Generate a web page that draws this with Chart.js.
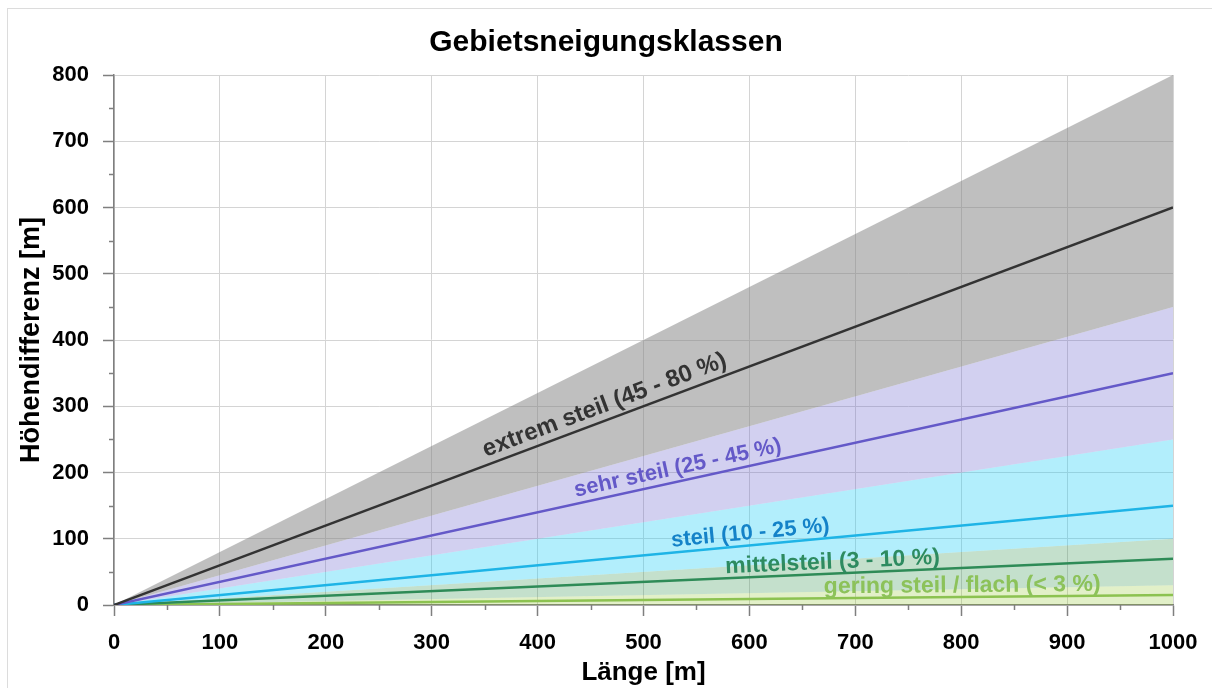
<!DOCTYPE html>
<html>
<head>
<meta charset="utf-8">
<script src="https://cdn.jsdelivr.net/npm/chart.js@4.4.0/dist/chart.umd.min.js"></script>
<style>
  body { margin: 0; background: #fff; }
  #wrap { position: relative; width: 1212px; height: 688px; }
  #frame { position: absolute; left: 7px; top: 8px; width: 1205px; height: 680px;
           border-left: 1px solid #dcdcdc; border-top: 1px solid #dcdcdc; box-sizing: border-box; }
  canvas { position: absolute; left: 0; top: 0; }
</style>
</head>
<body>
<div id="wrap">
  <div id="frame"></div>
  <canvas id="myChart" width="1212" height="688"></canvas>
</div>
<script>
// Länge [m] an den Endpunkten
var laenge = [0, 1000];
// Obergrenzen der Klassen (Höhendifferenz bei 0 m und 1000 m)
var obergrenze = [[0, 800], [0, 450], [0, 250], [0, 100], [0, 30]];
// Mittellinien der Klassen
var mittellinie = [[0, 600], [0, 350], [0, 150], [0, 70], [0, 15]];
var klassen = [
  "extrem steil (45 - 80 %)",
  "sehr steil (25 - 45 %)",
  "steil (10 - 25 %)",
  "mittelsteil (3 - 10 %)",
  "gering steil / flach (< 3 %)"
];
var xTicks = [0, 100, 200, 300, 400, 500, 600, 700, 800, 900, 1000];
var yTicks = [0, 100, 200, 300, 400, 500, 600, 700, 800];

// styles
var bandColors = [
  "rgba(128,128,128,0.5)",
  "rgba(105,98,205,0.3)",
  "rgba(35,206,246,0.35)",
  "rgba(58,152,85,0.3)",
  "rgba(139,195,35,0.25)"
];
var lineColors = ["#333333", "#6459c8", "#1eb4e6", "#2e8b57", "#8cc250"];
var textColors = ["#333333", "#6459c8", "#1482c8", "#2e8b60", "#8cc25a"];
// where the labels sit along each line (x in m), how far above it (px), font size
var labelAt = [468, 535, 602, 679, 801];
var labelLift = [8, 7, 6, 5, 5];
var labelSize = [24, 22, 22, 23, 23];

function points(ys) {
  return laenge.map(function (x, i) { return { x: x, y: ys[i] }; });
}

var datasets = [];
// center lines first so they are drawn on top
mittellinie.forEach(function (ys, i) {
  datasets.push({
    data: points(ys),
    borderColor: lineColors[i],
    borderWidth: 2.5,
    pointRadius: 0,
    fill: false
  });
});
// bands: each fills down to the next boundary
obergrenze.forEach(function (ys, i) {
  datasets.push({
    data: points(ys),
    borderWidth: 0,
    borderColor: "rgba(0,0,0,0)",
    backgroundColor: bandColors[i],
    pointRadius: 0,
    fill: i < obergrenze.length - 1 ? "+1" : "origin"
  });
});

// minor ticks every 50
var minorTicks = {
  id: "minorTicks",
  afterDraw: function (chart) {
    var ctx = chart.ctx, xs = chart.scales.x, ys = chart.scales.y;
    ctx.save();
    ctx.strokeStyle = "#7f7f7f";
    ctx.lineWidth = 1.5;
    ctx.beginPath();
    for (var i = 0; i < xTicks.length - 1; i++) {
      var px = Math.round(xs.getPixelForValue((xTicks[i] + xTicks[i + 1]) / 2)) + 0.5;
      ctx.moveTo(px, ys.bottom);
      ctx.lineTo(px, ys.bottom + 5);
    }
    for (var j = 0; j < yTicks.length - 1; j++) {
      var py = Math.round(ys.getPixelForValue((yTicks[j] + yTicks[j + 1]) / 2)) + 0.5;
      ctx.moveTo(xs.left - 5, py);
      ctx.lineTo(xs.left, py);
    }
    ctx.stroke();
    ctx.restore();
  }
};

// class names written along their lines
var lineLabels = {
  id: "lineLabels",
  afterDatasetsDraw: function (chart) {
    var ctx = chart.ctx, xs = chart.scales.x, ys = chart.scales.y;
    ctx.save();
    ctx.textAlign = "center";
    ctx.textBaseline = "alphabetic";
    mittellinie.forEach(function (yv, i) {
      var t = (labelAt[i] - laenge[0]) / (laenge[1] - laenge[0]);
      var v = yv[0] + t * (yv[1] - yv[0]);
      var px = xs.getPixelForValue(labelAt[i]);
      var py = ys.getPixelForValue(v);
      var dx = xs.getPixelForValue(laenge[1]) - xs.getPixelForValue(laenge[0]);
      var dy = ys.getPixelForValue(yv[1]) - ys.getPixelForValue(yv[0]);
      ctx.save();
      ctx.translate(px, py);
      ctx.rotate(Math.atan2(dy, dx));
      ctx.font = "bold " + labelSize[i] + "px 'Liberation Sans', Arial, sans-serif";
      ctx.fillStyle = textColors[i];
      ctx.fillText(klassen[i], 0, -labelLift[i]);
      ctx.restore();
    });
    ctx.restore();
  }
};

var font = "'Liberation Sans', Arial, sans-serif";

new Chart(document.getElementById("myChart").getContext("2d"), {
  type: "line",
  data: { datasets: datasets },
  plugins: [minorTicks, lineLabels],
  options: {
    responsive: false,
    animation: false,
    layout: { padding: { left: 0, right: 0, top: 0, bottom: 0 } },
    plugins: {
      legend: { display: false },
      tooltip: { enabled: false },
      title: {
        display: true,
        text: "Gebietsneigungsklassen",
        color: "#000",
        font: { family: font, size: 30, weight: "bold" },
        padding: { top: 25, bottom: 14 }
      }
    },
    scales: {
      x: {
        type: "linear",
        min: 0,
        max: 1000,
        afterBuildTicks: function (s) { s.ticks = xTicks.map(function (v) { return { value: v }; }); },
        ticks: {
          color: "#000",
          font: { family: font, size: 22, weight: "bold" },
          padding: 14,
          maxRotation: 0,
          callback: function (v) { return String(v); }
        },
        grid: { color: "#d4d4d4", tickColor: "#7f7f7f", tickLength: 11, tickWidth: 1.5 },
        border: { color: "#7f7f7f", width: 1.5 },
        title: {
          display: true,
          text: "Länge [m]",
          color: "#000",
          font: { family: font, size: 26, weight: "bold" },
          padding: { top: 2, bottom: 0 }
        },
        afterFit: function (s) { s.height = 83; }
      },
      y: {
        type: "linear",
        min: 0,
        max: 800,
        afterBuildTicks: function (s) { s.ticks = yTicks.map(function (v) { return { value: v }; }); },
        ticks: {
          color: "#000",
          font: { family: font, size: 22, weight: "bold" },
          padding: 14,
          callback: function (v) { return String(v); }
        },
        grid: { color: "#d4d4d4", tickColor: "#7f7f7f", tickLength: 11, tickWidth: 1.5 },
        border: { color: "#7f7f7f", width: 1.5 },
        title: {
          display: true,
          text: "Höhendifferenz [m]",
          color: "#000",
          font: { family: font, size: 27, weight: "bold" },
          padding: { top: 15, bottom: 0 }
        },
        afterFit: function (s) { s.width = 114; }
      },
      spacer: {
        type: "linear",
        position: "right",
        display: true,
        ticks: { display: false },
        grid: { display: false },
        border: { display: false },
        afterFit: function (s) { s.width = 39; }
      }
    }
  }
});
</script>
</body>
</html>
